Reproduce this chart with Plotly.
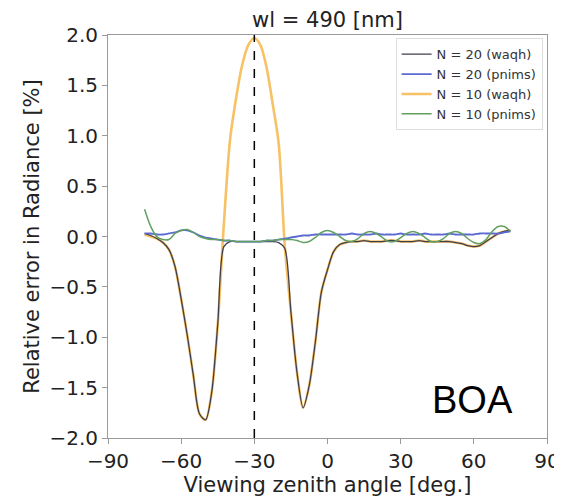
import plotly.graph_objects as go

# viewing zenith angle grid [deg]
angles = [-75 + 2.5 * i for i in range(61)]

# N = 10 (waqh) relative error [%]
n10_waqh = [0.02, 0.00, -0.02, -0.06, -0.13, -0.30, -0.62, -0.98, -1.38, -1.76,
            -1.82, -1.55, -0.87, 0.12, 0.95, 1.37, 1.70, 1.90, 1.97, 1.90,
            1.68, 1.32, 0.92, -0.10, -0.75, -1.35, -1.70, -1.48, -1.05, -0.55,
            -0.33, -0.15, -0.08, -0.06, -0.05, -0.05, -0.04, -0.05, -0.05, -0.05,
            -0.04, -0.04, -0.05, -0.05, -0.05, -0.04, -0.05, -0.05, -0.05, -0.05,
            -0.05, -0.06, -0.07, -0.09, -0.10, -0.09, -0.05, -0.01, 0.03, 0.05, 0.06]

# N = 20 (waqh) relative error [%]
n20_waqh = [0.03, 0.01, -0.02, -0.06, -0.13, -0.30, -0.62, -0.98, -1.38, -1.76,
            -1.82, -1.55, -0.87, -0.10, -0.05, -0.05, -0.05, -0.05, -0.05, -0.05,
            -0.05, -0.05, -0.06, -0.12, -0.75, -1.35, -1.70, -1.48, -1.05, -0.55,
            -0.33, -0.15, -0.08, -0.06, -0.05, -0.05, -0.04, -0.05, -0.05, -0.05,
            -0.04, -0.04, -0.05, -0.05, -0.05, -0.04, -0.05, -0.05, -0.05, -0.05,
            -0.05, -0.06, -0.07, -0.09, -0.10, -0.09, -0.05, -0.01, 0.03, 0.05, 0.06]

# N = 20 (pnims) relative error [%]
n20_pnims = [0.03, 0.03, 0.02, 0.02, 0.03, 0.04, 0.06, 0.06, 0.04, 0.01,
             -0.01, -0.02, -0.03, -0.04, -0.04, -0.05, -0.05, -0.05, -0.05, -0.05,
             -0.04, -0.04, -0.03, -0.02, -0.01, 0.00, 0.01, 0.01, 0.02, 0.02,
             0.02, 0.02, 0.02, 0.02, 0.03, 0.02, 0.02, 0.02, 0.03, 0.02,
             0.02, 0.02, 0.03, 0.02, 0.02, 0.02, 0.03, 0.02, 0.02, 0.02,
             0.03, 0.02, 0.02, 0.02, 0.02, 0.03, 0.03, 0.03, 0.03, 0.04, 0.05]

# N = 10 (pnims) relative error [%]
n10_pnims = [0.27, 0.10, 0.00, -0.03, -0.03, 0.03, 0.06, 0.07, 0.04, 0.00,
             -0.02, -0.03, -0.03, -0.04, -0.04, -0.05, -0.05, -0.05, -0.05, -0.05,
             -0.04, -0.04, -0.03, -0.03, -0.03, -0.04, -0.06, -0.05, -0.01, 0.04,
             0.06, 0.04, 0.00, -0.04, -0.05, -0.02, 0.03, 0.05, 0.03, -0.01,
             -0.05, -0.05, -0.01, 0.03, 0.05, 0.03, -0.01, -0.05, -0.05, -0.02,
             0.03, 0.05, 0.03, -0.02, -0.06, -0.07, -0.03, 0.05, 0.10, 0.10, 0.05]

sun_angle = -30
y_range = [-2.0, 2.0]

x_ticks = [-90, -60, -30, 0, 30, 60, 90]
y_ticks = [-2.0, -1.5, -1.0, -0.5, 0.0, 0.5, 1.0, 1.5, 2.0]

# drawing order: (name, values, colour, width, legend rank)
series = [
    ("N = 10 (waqh)", n10_waqh, "#f7c266", 2.6, 3),
    ("N = 20 (waqh)", n20_waqh, "#3f3f50", 1.3, 1),
    ("N = 20 (pnims)", n20_pnims, "#5a6ad0", 1.8, 2),
    ("N = 10 (pnims)", n10_pnims, "#62a062", 1.5, 4),
]

fig = go.Figure()
for name, vals, color, width, rank in series:
    fig.add_trace(go.Scatter(
        x=angles, y=vals, mode="lines", name=name,
        line=dict(color=color, width=width, shape="spline", smoothing=0.8),
        legendrank=rank,
    ))

fig.add_trace(go.Scatter(
    x=[sun_angle, sun_angle], y=y_range, mode="lines", showlegend=False,
    line=dict(color="black", width=1.5, dash="dash"),
))

axis_common = dict(
    showgrid=False, zeroline=False, showline=True, linecolor="#9a9a9a",
    linewidth=1, mirror=True, ticks="outside", ticklen=5, tickcolor="#9a9a9a",
    tickfont=dict(size=20, color="#222"), automargin=False,
)

# page body has an 8 px margin, so the figure is sized to fit the rest of the window
fig.update_layout(
    width=554, height=490,
    margin=dict(l=100, r=15, t=27, b=60),
    paper_bgcolor="white", plot_bgcolor="white",
    font=dict(family="DejaVu Sans", color="#222"),
    title=dict(text="wl = 490 [nm]", x=0.5, xref="paper", xanchor="center",
               y=1 - 12 / 490, yref="container", yanchor="middle",
               font=dict(size=21, color="#222")),
    xaxis=dict(range=[-90, 90], tickvals=x_ticks,
               title=dict(text="Viewing zenith angle [deg.]", font=dict(size=21), standoff=0),
               **axis_common),
    yaxis=dict(range=y_range, tickvals=y_ticks, tickformat=".1f",
               title=dict(text="Relative error in Radiance [%]", font=dict(size=21), standoff=4),
               **axis_common),
    legend=dict(x=0.99, y=0.992, xanchor="right", yanchor="top",
                bgcolor="white", bordercolor="#dddddd", borderwidth=1,
                font=dict(size=13, color="#333"), itemwidth=30,
                tracegroupgap=0),
    annotations=[dict(text="BOA", x=0.83, y=0.095, xref="paper", yref="paper",
                      xanchor="center", yanchor="middle", showarrow=False,
                      font=dict(size=38, family="Liberation Sans", color="black"))],
)

fig.write_html("out.html")
